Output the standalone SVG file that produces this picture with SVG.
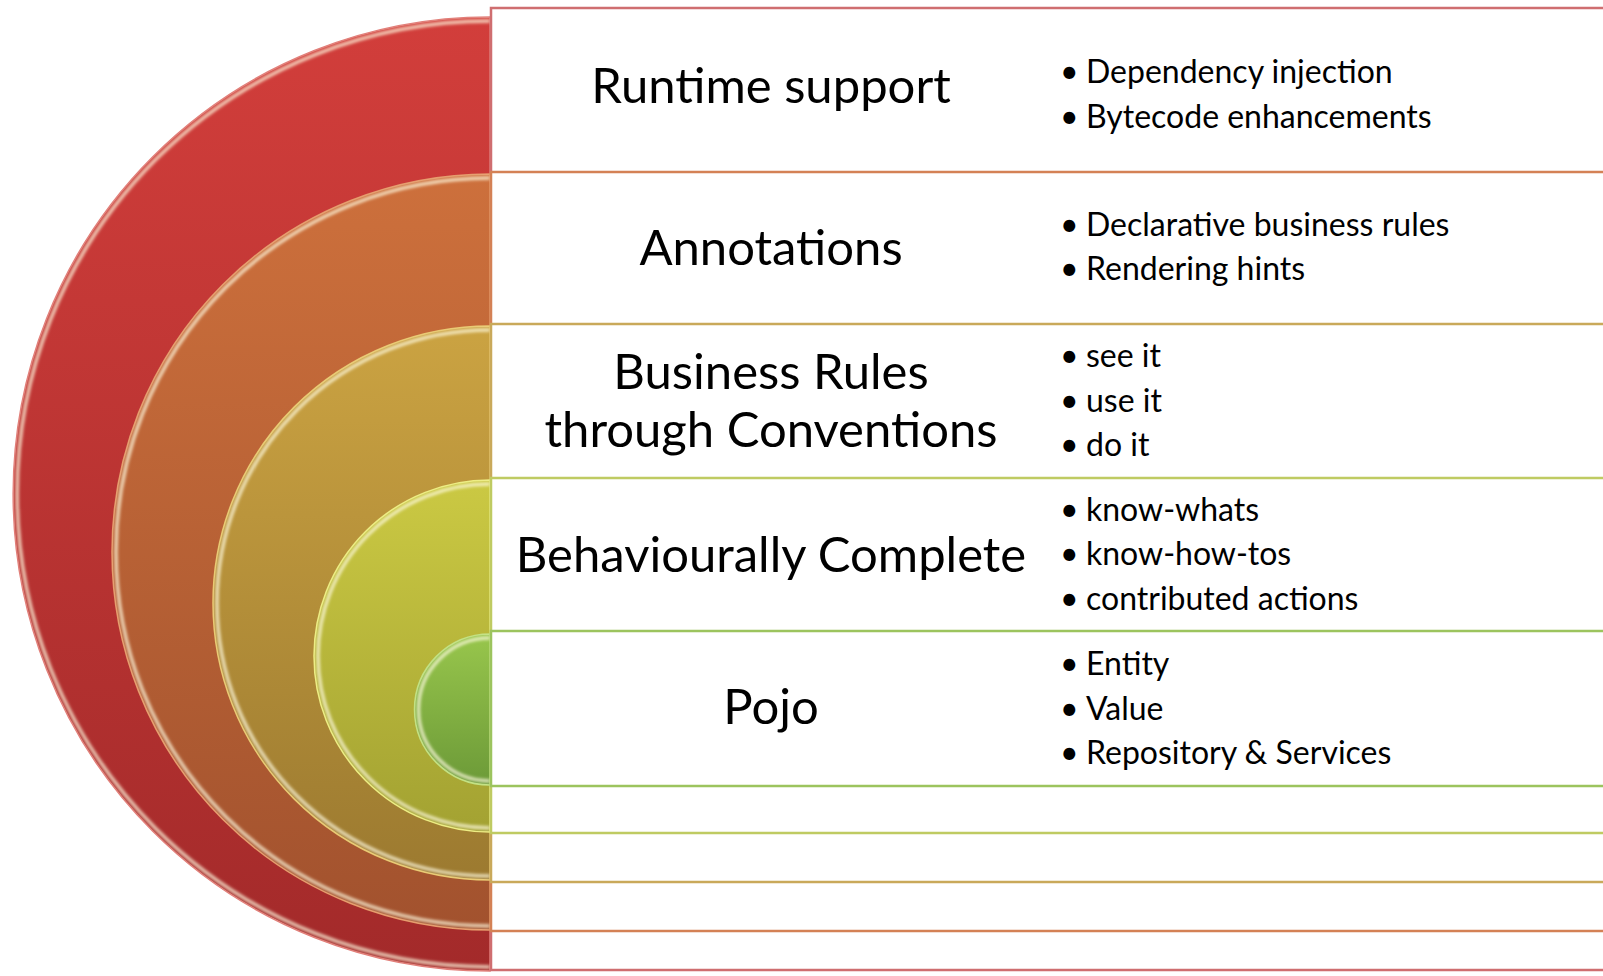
<svg xmlns="http://www.w3.org/2000/svg" width="1603" height="976" viewBox="0 0 1603 976">
<style>
  .title { font-family: Lato, "Open Sans", "Liberation Sans", sans-serif; font-size: 49px; fill: #000; text-anchor: middle; }
  .bul { font-family: Lato, "Open Sans", "Liberation Sans", sans-serif; font-size: 32px; fill: #000; }
  .row { fill: #ffffff; stroke-width: 2.5; }
  .hl { fill: none; stroke: #fffbe0; stroke-width: 3.5; stroke-opacity: 0.75; filter: url(#soft); }
</style>
<defs>
  <filter id="soft" x="-5%" y="-5%" width="110%" height="110%">
    <feGaussianBlur stdDeviation="1.4"/>
  </filter>
  <linearGradient id="gRed" x1="0" y1="0" x2="0" y2="1">
    <stop offset="0" stop-color="#d23e3b"/>
    <stop offset="1" stop-color="#a32a2a"/>
  </linearGradient>
  <linearGradient id="gOrange" x1="0" y1="0" x2="0" y2="1">
    <stop offset="0" stop-color="#cd703c"/>
    <stop offset="1" stop-color="#a2522e"/>
  </linearGradient>
  <linearGradient id="gGold" x1="0" y1="0" x2="0" y2="1">
    <stop offset="0" stop-color="#cba342"/>
    <stop offset="1" stop-color="#9c7a30"/>
  </linearGradient>
  <linearGradient id="gYellow" x1="0" y1="0" x2="0" y2="1">
    <stop offset="0" stop-color="#cbc943"/>
    <stop offset="1" stop-color="#a3a232"/>
  </linearGradient>
  <linearGradient id="gGreen" x1="0" y1="0" x2="0" y2="1">
    <stop offset="0" stop-color="#98c64c"/>
    <stop offset="1" stop-color="#6c9a38"/>
  </linearGradient>
</defs>
<rect x="0" y="0" width="1603" height="976" fill="#ffffff"/>

<g id="runtime-support">
  <path d="M490,17 A477,477 0 0 0 490,971 Z" fill="url(#gRed)" stroke="#e07b76" stroke-width="1.5"/>
  <path class="hl" d="M490,21 A473,473 0 0 0 490,967" stroke="#ffb0a8"/>
  <rect class="row" x="491" y="8" width="1130" height="962" stroke="#cf6e70"/>
  <text class="title" x="771" y="103">Runtime support</text>
  <text class="bul" y="83"><tspan x="1060">•</tspan><tspan x="1086">Dependency injection</tspan></text>
  <text class="bul" y="128"><tspan x="1060">•</tspan><tspan x="1086">Bytecode enhancements</tspan></text>
</g>

<g id="annotations">
  <path d="M490,174 A378,378 0 0 0 490,930 Z" fill="url(#gOrange)" stroke="#e59a6a" stroke-width="1.5"/>
  <path class="hl" d="M490,178 A374,374 0 0 0 490,926"/>
  <rect class="row" x="491" y="172" width="1130" height="759" stroke="#d48155"/>
  <text class="title" x="771" y="265">Annotations</text>
  <text class="bul" y="236"><tspan x="1060">•</tspan><tspan x="1086">Declarative business rules</tspan></text>
  <text class="bul" y="280"><tspan x="1060">•</tspan><tspan x="1086">Rendering hints</tspan></text>
</g>

<g id="business-rules">
  <path d="M490,326 A277,277 0 0 0 490,880 Z" fill="url(#gGold)" stroke="#e8c870" stroke-width="1.5"/>
  <path class="hl" d="M490,330 A273,273 0 0 0 490,876"/>
  <rect class="row" x="491" y="324" width="1130" height="558" stroke="#c9a95a"/>
  <text class="title" x="771" y="389">Business Rules</text>
  <text class="title" x="771" y="447">through Conventions</text>
  <text class="bul" y="367"><tspan x="1060">•</tspan><tspan x="1086">see it</tspan></text>
  <text class="bul" y="412"><tspan x="1060">•</tspan><tspan x="1086">use it</tspan></text>
  <text class="bul" y="456"><tspan x="1060">•</tspan><tspan x="1086">do it</tspan></text>
</g>

<g id="behaviourally-complete">
  <path d="M490,480 A176,176 0 0 0 490,832 Z" fill="url(#gYellow)" stroke="#ecec80" stroke-width="1.5"/>
  <path class="hl" d="M490,484 A172,172 0 0 0 490,828"/>
  <rect class="row" x="491" y="478" width="1130" height="355" stroke="#bfcb62"/>
  <text class="title" x="771" y="572">Behaviourally Complete</text>
  <text class="bul" y="521"><tspan x="1060">•</tspan><tspan x="1086">know-whats</tspan></text>
  <text class="bul" y="565"><tspan x="1060">•</tspan><tspan x="1086">know-how-tos</tspan></text>
  <text class="bul" y="610"><tspan x="1060">•</tspan><tspan x="1086">contributed actions</tspan></text>
</g>

<g id="pojo">
  <path d="M490,634 A75.5,75.5 0 0 0 490,785 Z" fill="url(#gGreen)" stroke="#c0e080" stroke-width="1.5"/>
  <path class="hl" d="M490,638 A71.5,71.5 0 0 0 490,781"/>
  <rect class="row" x="491" y="631" width="1130" height="155" stroke="#9cc45e"/>
  <text class="title" x="771" y="724">Pojo</text>
  <text class="bul" y="675"><tspan x="1060">•</tspan><tspan x="1086">Entity</tspan></text>
  <text class="bul" y="720"><tspan x="1060">•</tspan><tspan x="1086">Value</tspan></text>
  <text class="bul" y="764"><tspan x="1060">•</tspan><tspan x="1086">Repository &amp; Services</tspan></text>
</g>

<g id="connectors"></g>
</svg>
